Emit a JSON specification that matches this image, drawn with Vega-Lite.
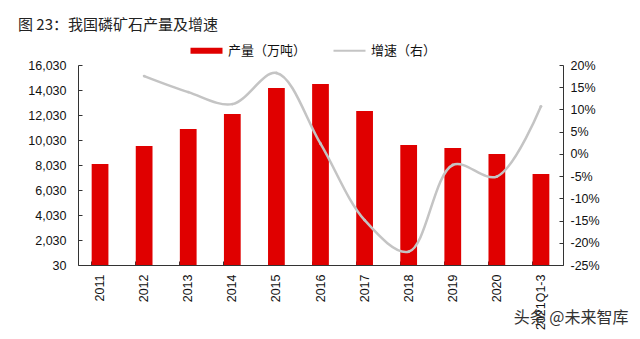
{
  "$schema": "https://vega.github.io/schema/vega-lite/v6.json",
  "width": 485,
  "height": 200,
  "autosize": {"type": "none"},
  "padding": {"left": 78, "top": 65, "right": 77, "bottom": 74},
  "title": {
    "text": "图 23：我国磷矿石产量及增速",
    "anchor": "start",
    "frame": "group",
    "dx": -60,
    "offset": 11,
    "font": "Noto Sans CJK SC",
    "fontSize": 15,
    "fontWeight": "normal",
    "color": "#222222"
  },
  "config": {
    "view": {"stroke": null},
    "font": "Liberation Sans",
    "axis": {"labelFont": "Liberation Sans", "labelFontSize": 12.5, "labelColor": "#111111", "domainColor": "#333333", "tickColor": "#333333", "grid": false}
  },
  "data": {
    "values": [
      {"year": "2011", "output": 8110, "growth": null},
      {"year": "2012", "output": 9550, "growth": 0.175},
      {"year": "2013", "output": 10910, "growth": 0.139},
      {"year": "2014", "output": 12110, "growth": 0.112},
      {"year": "2015", "output": 14190, "growth": 0.182},
      {"year": "2016", "output": 14510, "growth": 0.023},
      {"year": "2017", "output": 12350, "growth": -0.149},
      {"year": "2018", "output": 9630, "growth": -0.22},
      {"year": "2019", "output": 9390, "growth": -0.025},
      {"year": "2020", "output": 8910, "growth": -0.051},
      {"year": "2021Q1-3", "output": 7310, "growth": 0.107}
    ]
  },
  "layer": [
    {
      "mark": {"type": "bar", "color": "#e00000"},
      "encoding": {
        "x": {
          "field": "year", "type": "ordinal", "sort": null,
          "scale": {"paddingInner": 0.62, "paddingOuter": 0.31},
          "axis": {
            "orient": "bottom", "labelAngle": -90, "ticks": false, "labelPadding": 9,
            "title": "头条 @未来智库", "titleAnchor": "end", "titleAlign": "right",
            "titleX": 550, "titleY": 52, "titleBaseline": "middle",
            "titleFont": "Noto Sans CJK SC", "titleFontSize": 16, "titleFontWeight": "normal", "titleColor": "#333333"
          }
        },
        "y": {
          "field": "output", "type": "quantitative",
          "scale": {"domain": [30, 16030], "zero": false, "nice": false},
          "axis": {"title": null, "values": [30, 2030, 4030, 6030, 8030, 10030, 12030, 14030, 16030], "labelExpr": "format(datum.value, ',')", "tickSize": -4, "labelPadding": 16}
        },
        "y2": {"datum": 30},
        "color": {
          "datum": "产量（万吨）",
          "scale": {"domain": ["产量（万吨）", "增速（右）"], "range": ["#e00000", "#c4c4c4"]},
          "legend": {
            "orient": "none", "legendX": 122, "legendY": -21, "direction": "horizontal",
            "title": null, "padding": 0, "columnPadding": 22, "labelOffset": 15,
            "labelFont": "Noto Sans CJK SC", "labelFontSize": 13, "labelColor": "#111111",
            "symbolSize": 1024, "symbolOpacity": 1,
            "encode": {
              "symbols": {
                "update": {
                  "shape": {"signal": "datum.value === '产量（万吨）' ? 'M-1,-0.18H1V0.18H-1Z' : 'M-1,0H1'"},
                  "fill": {"signal": "datum.value === '产量（万吨）' ? '#e00000' : 'transparent'"},
                  "stroke": {"signal": "datum.value === '产量（万吨）' ? '#e00000' : '#c4c4c4'"},
                  "strokeWidth": {"signal": "datum.value === '产量（万吨）' ? 0 : 2"},
                  "size": {"value": 1024}
                }
              }
            }
          }
        }
      }
    },
    {
      "mark": {"type": "line", "interpolate": "catmull-rom", "strokeWidth": 2.5, "point": {"filled": true, "size": 8}},
      "encoding": {
        "x": {
          "field": "year", "type": "ordinal", "sort": null,
          "axis": {"orient": "bottom", "labels": false, "domain": false, "ticks": true, "tickSize": -4, "bandPosition": 0, "title": null}
        },
        "y": {
          "field": "growth", "type": "quantitative",
          "scale": {"domain": [-0.25, 0.2], "zero": false, "nice": false},
          "axis": {"orient": "right", "title": null, "values": [-0.25, -0.2, -0.15, -0.1, -0.05, 0, 0.05, 0.1, 0.15, 0.2], "labelExpr": "round(datum.value*100) + '%'", "tickSize": -4, "labelPadding": 11}
        },
        "color": {"datum": "增速（右）"}
      }
    }
  ],
  "resolve": {"scale": {"y": "independent"}, "axis": {"x": "independent"}}
}
